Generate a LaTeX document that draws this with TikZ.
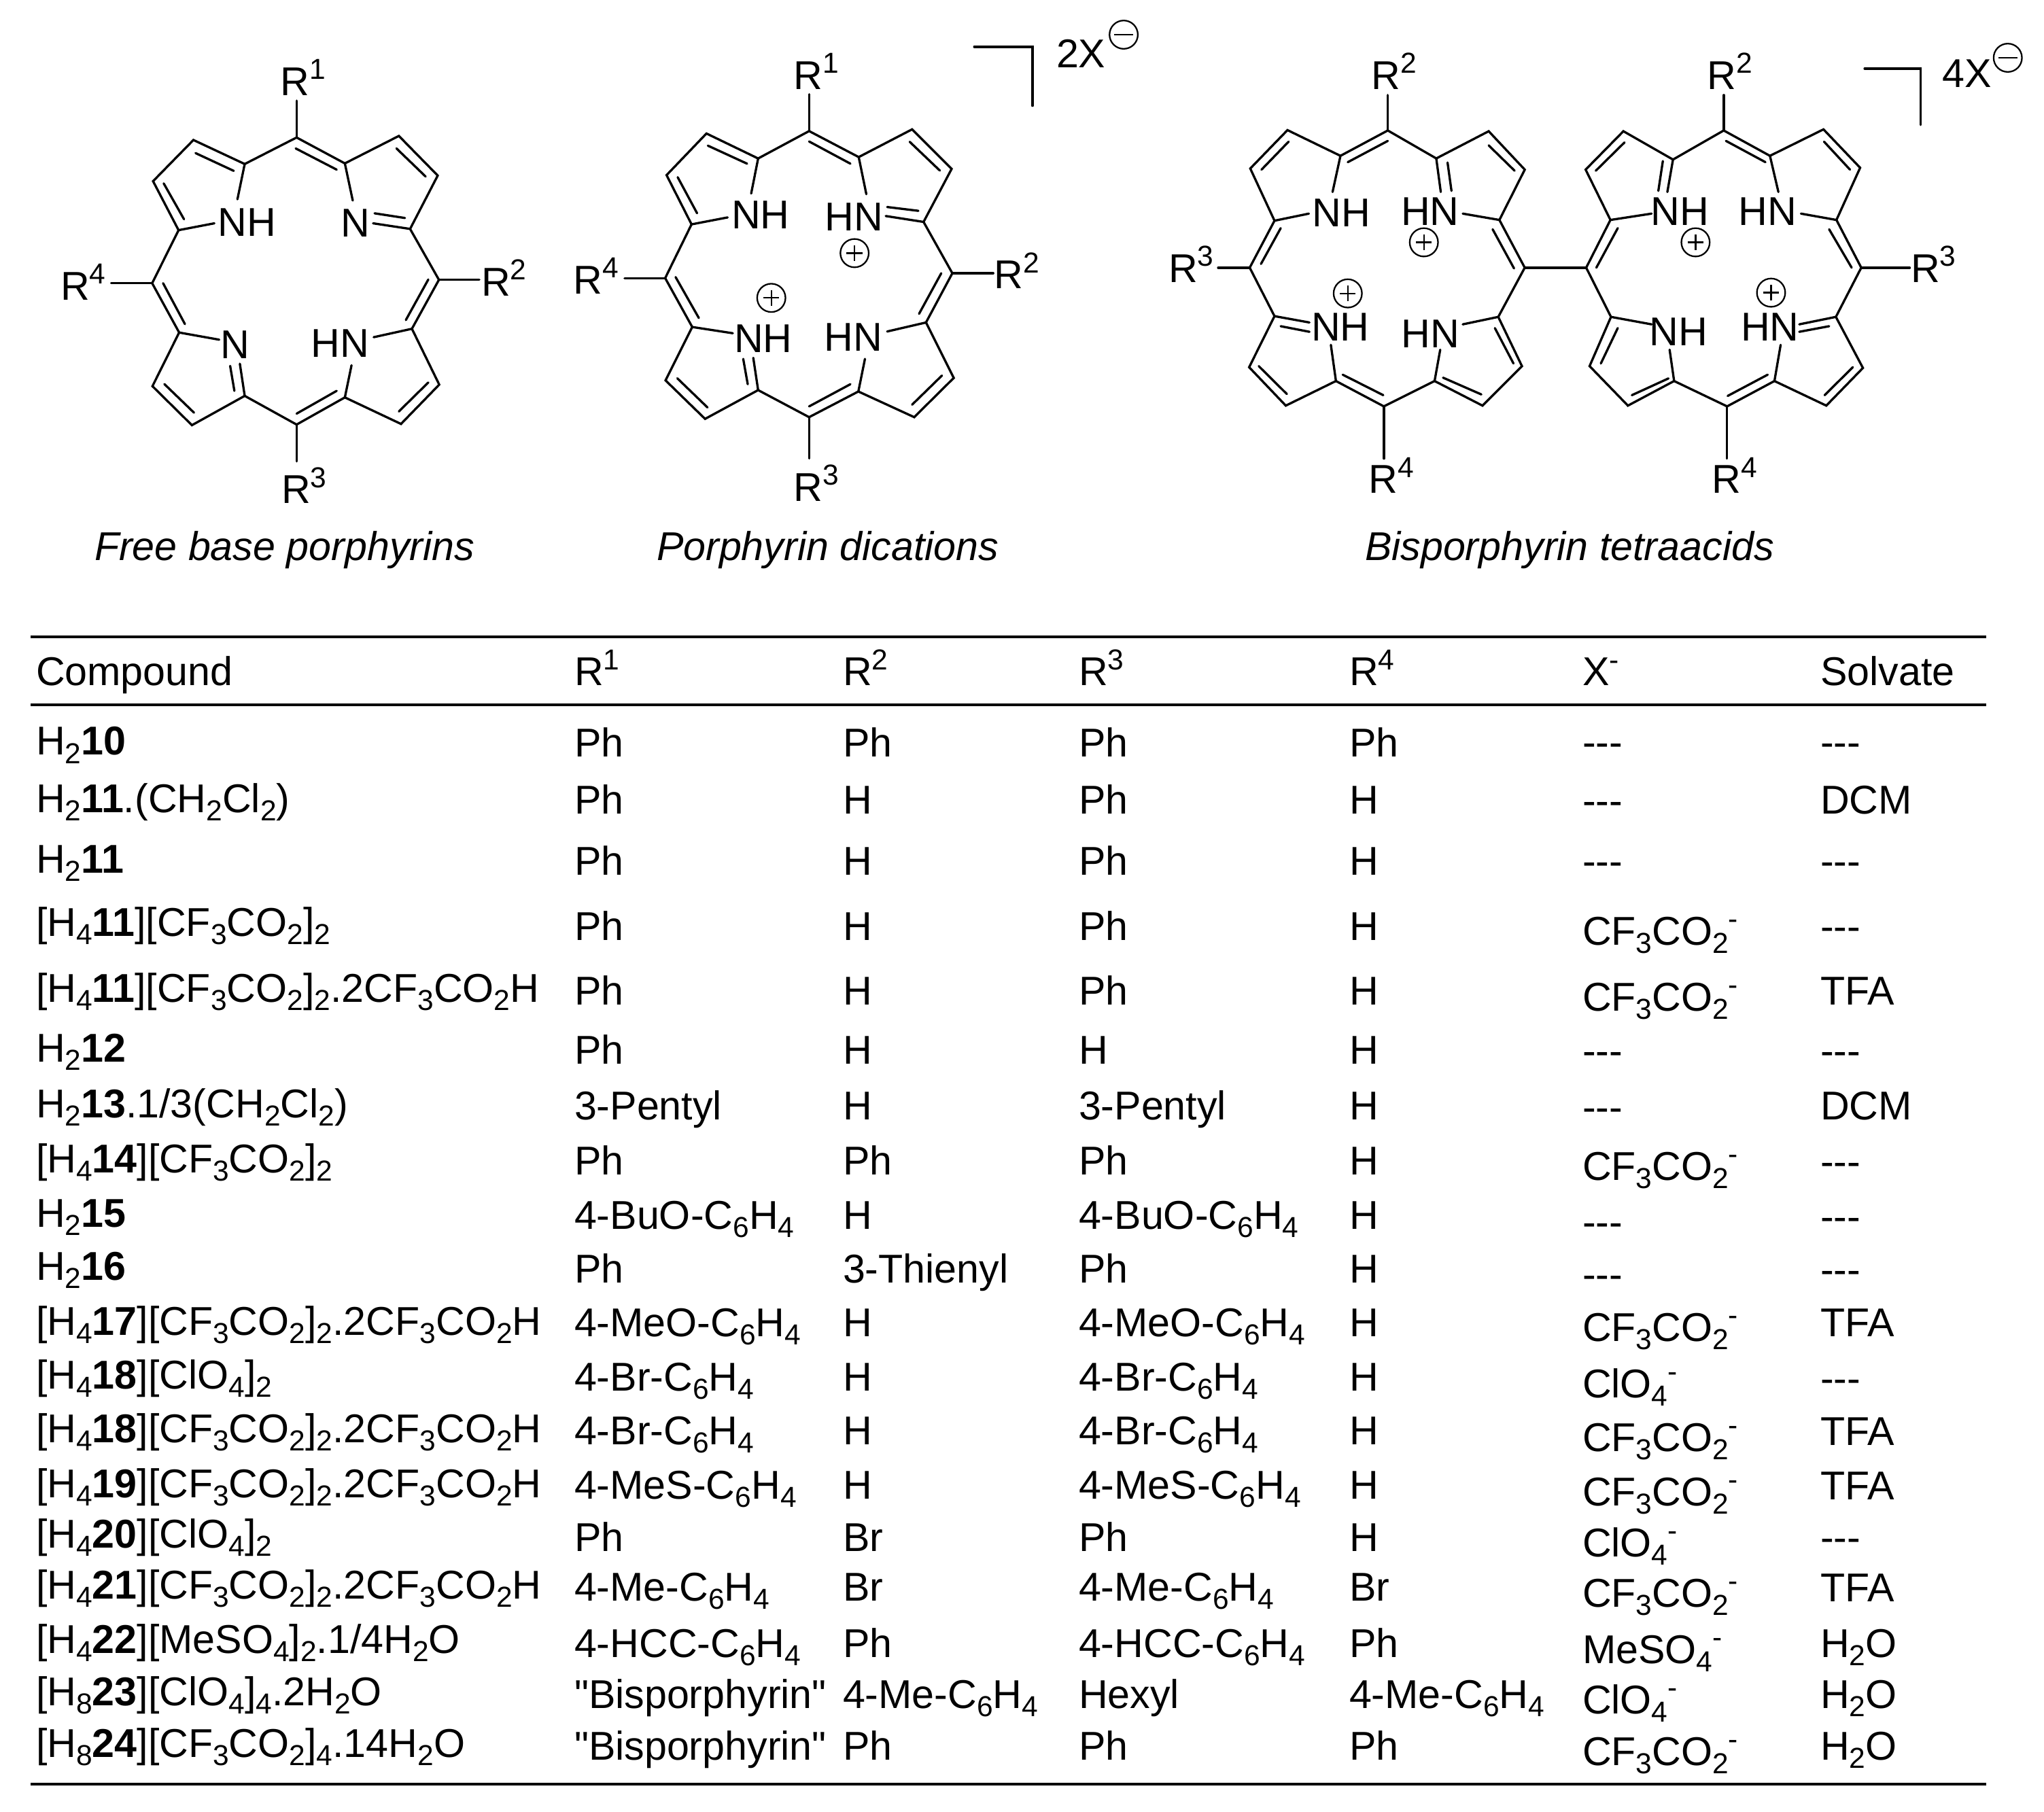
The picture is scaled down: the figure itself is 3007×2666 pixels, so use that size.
\documentclass[tikz,border=0pt]{standalone}
\usepackage{fontspec}
\setmainfont{Liberation Sans}
\newfontfamily\plainf{Liberation Sans}
\newcommand\lowr[1]{\raisebox{-0.21em}{\fontsize{10.2}{11}\selectfont #1}}
\newcommand\uppr[1]{\raisebox{0.40em}{\fontsize{10.2}{11}\selectfont #1}}
\newcommand\dsh{-{}-{}-}
\newcommand\cfco{CF\lowr{3}CO\lowr{2}}
\newcommand\cfx{CF\lowr{3}CO\lowr{2}\uppr{-}}
\newcommand\clx{ClO\lowr{4}\uppr{-}}
\newcommand\tfa{.2CF\lowr{3}CO\lowr{2}H}
\newcommand\bisp{{\plainf"Bisporphyrin"}}
\newcounter{rw}
% \rowdata{y col1}{y R}{y X}{y solvate} then \rowtext{c1}{R1}{R2}{R3}{R4}{X}{S}
\newcommand\rowdata[4]{\stepcounter{rw}\def\ya{#1}\def\yb{#2}\def\yc{#3}\def\yd{#4}}
\newcommand\rowtext[7]{%
 \node[cell] (a\therw) at (53,\ya) {#1};
 \node[cell] (b\therw) at (845,\yb) {#2};
 \node[cell] (c\therw) at (1240,\yb) {#3};
 \node[cell] (d\therw) at (1587,\yb) {#4};
 \node[cell] (e\therw) at (1985,\yb) {#5};
 \node[cell] (f\therw) at (2328,\yc) {#6};
 \node[cell] (g\therw) at (2678,\yd) {#7};
}
\newcommand\plusmark[1]{%
 \draw[chg] (#1) circle (5pt);
 \draw[chg] (#1) ++(-2.8pt,0) -- ++(5.6pt,0);
 \draw[chg] (#1) ++(0,-2.8pt) -- ++(0,5.6pt);
}
\newcommand\minusmark[1]{%
 \draw[chg] (#1) circle (5pt);
 \draw[chg] (#1) ++(-3.4pt,0) -- ++(6.8pt,0);
}
\tikzset{
 bond/.style={line width=0.8pt,line join=miter,line cap=round},
 chg/.style={line width=0.55pt},
 cell/.style={anchor=base west,inner sep=0pt,outer sep=0pt,font=\fontsize{14.2}{16}\selectfont},
 atom/.style={anchor=center,inner sep=0pt,outer sep=0pt,font=\fontsize{14.2}{16}\selectfont},
 rule/.style={line width=0.9pt},
 capt/.style={anchor=base west,inner sep=0pt,outer sep=0pt,font=\fontsize{14.2}{16}\selectfont\itshape},
}
\begin{document}
\begin{tikzpicture}[x=0.24pt,y=-0.24pt]
\useasboundingbox (0,0) rectangle (3007,2666);
\fill[white] (0,0) rectangle (3007,2666);

% ---------- Free base porphyrin
\begin{scope}[shift={(60,60)},x=0.107143pt,y=-0.11019pt]
\draw[bond] (648,508)--(672,395)--(503,318)--(370,450)--(454,607)--(572,585);
\draw[bond] (672,395)--(843,310)--(1002,393)--(1028,512);
\draw[bond] (1002,393)--(1180,305)--(1308,432)--(1217,603)--(1095,585);
\draw[bond] (1217,603)--(1312,766)--(1223,923)--(1097,950);
\draw[bond] (1223,923)--(1313,1102)--(1187,1228)--(1002,1143)--(1024,1040);
\draw[bond] (1002,1143)--(843,1230)--(672,1138)--(656,1035);
\draw[bond] (672,1138)--(498,1232)--(368,1107)--(456,935)--(588,958);
\draw[bond] (456,935)--(367,777)--(454,607);
\draw[bond] (843,192)--(843,310) (367,777)--(232,777) (1312,766)--(1445,766) (843,1230)--(843,1348);
\draw[bond] (510,360)--(636,417) (405,457)--(472,572) (840,345)--(975,413) (1172,345)--(1268,435)
 (1100,553)--(1200,568) (1277,765)--(1203,895) (1277,1095)--(1180,1188) (975,1122)--(843,1195)
 (638,1122)--(624,1042) (505,1192)--(407,1100) (403,777)--(475,908);
\node[atom] (s1a) at (680,582) {NH};
\node[atom] (s1b) at (1037,585) {N};
\node[atom] (s1c) at (640,975) {N};
\node[atom] (s1d) at (987,970) {HN};
\node[cell] (s1e) at (790,175) {R\uppr{1}};
\node[cell] (s1f) at (1452,818) {R\uppr{2}};
\node[cell] (s1g) at (793,1483) {R\uppr{3}};
\node[cell] (s1h) at (65,830) {R\uppr{4}};
\end{scope}

% ---------- Porphyrin dication
\begin{scope}[shift={(800,0)},x=0.122449pt,y=-0.122449pt]
\draw[bond] (598,558)--(618,457)--(469,385)--(354,505)--(426,647)--(530,627);
\draw[bond] (618,457)--(765,378)--(908,453)--(930,560);
\draw[bond] (908,453)--(1062,373)--(1176,487)--(1095,640)--(986,623);
\draw[bond] (1095,640)--(1178,788)--(1102,930)--(990,956);
\draw[bond] (1102,930)--(1182,1090)--(1068,1203)--(907,1129)--(926,1035);
\draw[bond] (907,1129)--(765,1203)--(618,1125)--(604,1032);
\draw[bond] (618,1125)--(465,1208)--(351,1097)--(428,943)--(545,961);
\draw[bond] (428,943)--(350,802)--(426,647);
\draw[bond] (765,272)--(765,378) (350,802)--(233,802) (1178,788)--(1296,788) (765,1203)--(765,1322);
\draw[bond] (473,420)--(586,472) (386,511)--(442,615) (765,408)--(884,472) (1055,409)--(1142,492)
 (990,597)--(1080,608) (1146,788)--(1082,905) (1148,1083)--(1062,1167) (884,1108)--(765,1172)
 (472,1175)--(385,1091) (575,1035)--(588,1108) (380,799)--(447,917);
\draw[bond] (1241,135)--(1409,135)--(1409,305);
\node[atom] (s2a) at (625,620) {NH};
\node[atom] (s2b) at (895,625) {HN};
\node[atom] (s2c) at (633,977) {NH};
\node[atom] (s2d) at (892,973) {HN};
\plusmark{896,730}
\plusmark{656,859}
\node[cell] (s2e) at (721,258) {R\uppr{1}};
\node[cell] (s2f) at (1299,833) {R\uppr{2}};
\node[cell] (s2g) at (721,1445) {R\uppr{3}};
\node[cell] (s2h) at (86,847) {R\uppr{4}};
\node[cell] (s2i) at (1478,195) {2X};
\minusmark{1672,100}
\end{scope}

% ---------- Bisporphyrin
\begin{scope}[shift={(1700,0)},x=0.199005pt,y=-0.131651pt]
% left ring system
\draw[bond] (314,515)--(328,418)--(234,349)--(168,452)--(211,592)--(272,573);
\draw[bond] (328,418)--(412,350)--(498,425)--(506,515);
\draw[bond] (498,425)--(591,352)--(655,455)--(610,590)--(545,573);
\draw[bond] (610,590)--(655,718)--(608,850)--(545,870);
\draw[bond] (608,850)--(650,982)--(580,1088)--(495,1022)--(505,938);
\draw[bond] (495,1022)--(405,1090)--(320,1022)--(311,925);
\draw[bond] (320,1022)--(231,1088)--(166,985)--(211,848)--(273,865);
\draw[bond] (211,848)--(167,718)--(211,592);
\draw[bond] (412,255)--(412,350) (405,1090)--(405,1230) (167,718)--(111,718);
\draw[bond] (188,455)--(236,380) (341,435)--(412,378) (518,436)--(525,512) (591,390)--(637,458)
 (598,615)--(636,720) (602,880)--(635,975) (578,1058)--(510,1013) (404,1060)--(332,1005)
 (233,1057)--(183,982) (222,875)--(273,890) (222,612)--(187,708);
% link
\draw[bond] (655,718)--(764,718);
% right ring system
\draw[bond] (908,515)--(918,428)--(830,352)--(763,455)--(807,590)--(880,573);
\draw[bond] (918,428)--(1008,350)--(1090,418)--(1105,515);
\draw[bond] (1090,418)--(1185,347)--(1250,450)--(1208,590)--(1145,573);
\draw[bond] (1208,590)--(1252,718)--(1207,850)--(1142,870);
\draw[bond] (1207,850)--(1255,987)--(1190,1088)--(1098,1022)--(1109,925);
\draw[bond] (1098,1022)--(1014,1090)--(920,1022)--(912,938);
\draw[bond] (920,1022)--(838,1088)--(770,982)--(808,850)--(880,870);
\draw[bond] (808,850)--(764,718)--(807,590);
\draw[bond] (1008,255)--(1008,350) (1014,1090)--(1014,1230) (1252,718)--(1338,718);
\draw[bond] (781,458)--(832,382) (900,432)--(892,512) (1012,378)--(1082,435) (1186,380)--(1232,455)
 (1195,615)--(1235,718) (1195,875)--(1142,890) (1237,985)--(1187,1060) (1015,1062)--(1086,1005)
 (845,1060)--(910,1015) (790,975)--(820,880) (820,612)--(782,718);
\draw[bond] (1258,184)--(1357,184)--(1357,335);
\node[atom] (s3a) at (330,570) {NH};
\node[atom] (s3b) at (487,568) {HN};
\node[atom] (s3c) at (328,877) {NH};
\node[atom] (s3d) at (488,895) {HN};
\node[atom] (s3e) at (930,568) {NH};
\node[atom] (s3f) at (1086,568) {HN};
\node[atom] (s3g) at (928,890) {NH};
\node[atom] (s3h) at (1090,877) {HN};
\plusmark{476,650}
\plusmark{341,787}
\plusmark{958,650}
\plusmark{1092,785}
\node[cell] (s3i) at (383,240) {R\uppr{2}};
\node[cell] (s3j) at (23,757) {R\uppr{3}};
\node[cell] (s3k) at (378,1323) {R\uppr{4}};
\node[cell] (s3l) at (979,240) {R\uppr{2}};
\node[cell] (s3m) at (1340,757) {R\uppr{3}};
\node[cell] (s3n) at (987,1323) {R\uppr{4}};
\node[cell] (s3o) at (1396,235) {4X};
\minusmark{1512,155}
\end{scope}

% ---------- captions
\node[capt] (cap1) at (139,825) {Free base porphyrins};
\node[capt] (cap2) at (966,825) {Porphyrin dications};
\node[capt] (cap3) at (2008,825) {Bisporphyrin tetraacids};

% ---------- table
\draw[rule] (45,937)--(2922,937);
\draw[rule] (45,1037)--(2922,1037);
\draw[rule] (45,2625)--(2922,2625);
\node[cell] (h1) at (53,1009) {Compound};
\node[cell] (h2) at (845,1009) {R\uppr{1}};
\node[cell] (h3) at (1240,1009) {R\uppr{2}};
\node[cell] (h4) at (1587,1009) {R\uppr{3}};
\node[cell] (h5) at (1985,1009) {R\uppr{4}};
\node[cell] (h6) at (2328,1009) {X\uppr{-}};
\node[cell] (h7) at (2678,1009) {Solvate};

\rowdata{1111}{1114}{1113}{1113}\rowtext{H\lowr{2}\textbf{10}}{Ph}{Ph}{Ph}{Ph}{\dsh}{\dsh}
\rowdata{1195}{1198}{1199}{1198}\rowtext{H\lowr{2}\textbf{11}.(CH\lowr{2}Cl\lowr{2})}{Ph}{H}{Ph}{H}{\dsh}{DCM}
\rowdata{1284}{1288}{1287}{1287}\rowtext{H\lowr{2}\textbf{11}}{Ph}{H}{Ph}{H}{\dsh}{\dsh}
\rowdata{1377}{1383}{1390}{1383}\rowtext{[H\lowr{4}\textbf{11}][\cfco]\lowr{2}}{Ph}{H}{Ph}{H}{\cfx}{\dsh}
\rowdata{1474}{1478}{1487}{1478}\rowtext{[H\lowr{4}\textbf{11}][\cfco]\lowr{2}\tfa}{Ph}{H}{Ph}{H}{\cfx}{TFA}
\rowdata{1562}{1565}{1566}{1566}\rowtext{H\lowr{2}\textbf{12}}{Ph}{H}{H}{H}{\dsh}{\dsh}
\rowdata{1644}{1647}{1649}{1647}\rowtext{H\lowr{2}\textbf{13}.1/3(CH\lowr{2}Cl\lowr{2})}{3-Pentyl}{H}{3-Pentyl}{H}{\dsh}{DCM}
\rowdata{1725}{1728}{1736}{1729}\rowtext{[H\lowr{4}\textbf{14}][\cfco]\lowr{2}}{Ph}{Ph}{Ph}{H}{\cfx}{\dsh}
\rowdata{1805}{1808}{1818}{1810}\rowtext{H\lowr{2}\textbf{15}}{4-BuO-C\lowr{6}H\lowr{4}}{H}{4-BuO-C\lowr{6}H\lowr{4}}{H}{\dsh}{\dsh}
\rowdata{1883}{1887}{1895}{1888}\rowtext{H\lowr{2}\textbf{16}}{Ph}{3-Thienyl}{Ph}{H}{\dsh}{\dsh}
\rowdata{1964}{1966}{1973}{1966}\rowtext{[H\lowr{4}\textbf{17}][\cfco]\lowr{2}\tfa}{4-MeO-C\lowr{6}H\lowr{4}}{H}{4-MeO-C\lowr{6}H\lowr{4}}{H}{\cfx}{TFA}
\rowdata{2043}{2046}{2056}{2048}\rowtext{[H\lowr{4}\textbf{18}][ClO\lowr{4}]\lowr{2}}{4-Br-C\lowr{6}H\lowr{4}}{H}{4-Br-C\lowr{6}H\lowr{4}}{H}{\clx}{\dsh}
\rowdata{2122}{2125}{2135}{2126}\rowtext{[H\lowr{4}\textbf{18}][\cfco]\lowr{2}\tfa}{4-Br-C\lowr{6}H\lowr{4}}{H}{4-Br-C\lowr{6}H\lowr{4}}{H}{\cfx}{TFA}
\rowdata{2203}{2205}{2215}{2206}\rowtext{[H\lowr{4}\textbf{19}][\cfco]\lowr{2}\tfa}{4-MeS-C\lowr{6}H\lowr{4}}{H}{4-MeS-C\lowr{6}H\lowr{4}}{H}{\cfx}{TFA}
\rowdata{2277}{2282}{2290}{2282}\rowtext{[H\lowr{4}\textbf{20}][ClO\lowr{4}]\lowr{2}}{Ph}{Br}{Ph}{H}{\clx}{\dsh}
\rowdata{2352}{2355}{2364}{2356}\rowtext{[H\lowr{4}\textbf{21}][\cfco]\lowr{2}\tfa}{4-Me-C\lowr{6}H\lowr{4}}{Br}{4-Me-C\lowr{6}H\lowr{4}}{Br}{\cfx}{TFA}
\rowdata{2432}{2438}{2447}{2438}\rowtext{[H\lowr{4}\textbf{22}][MeSO\lowr{4}]\lowr{2}.1/4H\lowr{2}O}{4-HCC-C\lowr{6}H\lowr{4}}{Ph}{4-HCC-C\lowr{6}H\lowr{4}}{Ph}{MeSO\lowr{4}\uppr{-}}{H\lowr{2}O}
\rowdata{2509}{2513}{2521}{2513}\rowtext{[H\lowr{8}\textbf{23}][ClO\lowr{4}]\lowr{4}.2H\lowr{2}O}{\bisp}{4-Me-C\lowr{6}H\lowr{4}}{Hexyl}{4-Me-C\lowr{6}H\lowr{4}}{\clx}{H\lowr{2}O}
\rowdata{2585}{2589}{2597}{2589}\rowtext{[H\lowr{8}\textbf{24}][\cfco]\lowr{4}.14H\lowr{2}O}{\bisp}{Ph}{Ph}{Ph}{\cfx}{H\lowr{2}O}
\end{tikzpicture}
\end{document}
